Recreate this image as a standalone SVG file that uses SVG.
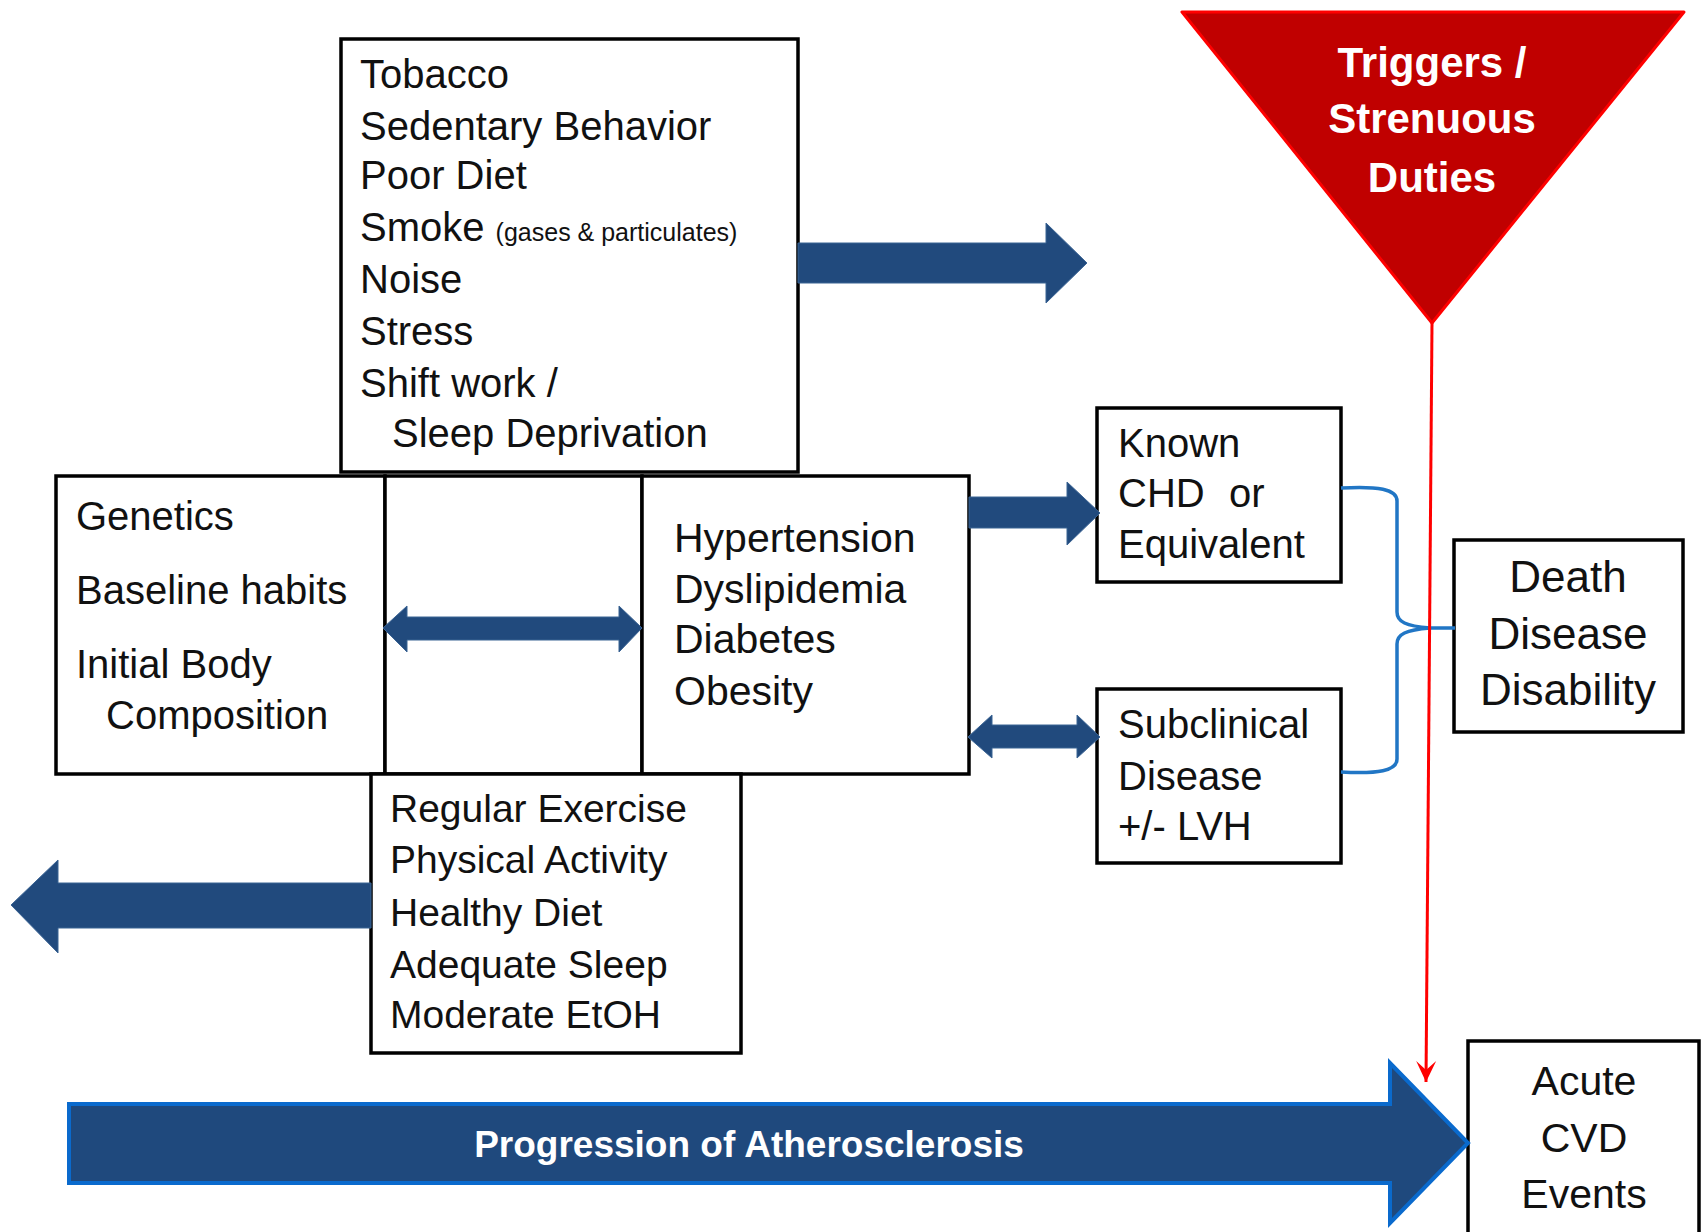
<svg xmlns="http://www.w3.org/2000/svg" width="1708" height="1232" viewBox="0 0 1708 1232">
<style>
.box{fill:#fff;stroke:#000;stroke-width:3.5}
.t{font-family:"Liberation Sans",Arial,sans-serif;font-size:40px;fill:#111}
.t41{font-size:41px}
.t39{font-size:39px}
.tc{font-family:"Liberation Sans",Arial,sans-serif;font-size:41px;fill:#111;text-anchor:middle}
.t44{font-size:44px}
.arr{fill:#214A7D;stroke:#3B6494;stroke-width:1}
.wb{font-family:"Liberation Sans",Arial,sans-serif;font-weight:bold;fill:#fff;text-anchor:middle}
</style>
<defs>
<marker id="redhead" viewBox="0 0 24 22" refX="22" refY="11" markerWidth="24" markerHeight="22" markerUnits="userSpaceOnUse" orient="auto">
<path d="M1,1 L22,11 L1,21 L10,11 Z" fill="#FF0000"/>
</marker>
</defs>
<rect width="1708" height="1232" fill="#fff"/>

<g id="risk-factors">
<rect class="box" x="341" y="39" width="457" height="433"/>
<text class="t" x="360" y="88">Tobacco</text>
<text class="t" x="360" y="140">Sedentary Behavior</text>
<text class="t" x="360" y="189">Poor Diet</text>
<text class="t" x="360" y="241">Smoke <tspan font-size="25">(gases &amp; particulates)</tspan></text>
<text class="t" x="360" y="293">Noise</text>
<text class="t" x="360" y="345">Stress</text>
<text class="t" x="360" y="397">Shift work /</text>
<text class="t" x="392" y="447">Sleep Deprivation</text>
</g>

<g id="genetics">
<rect class="box" x="56" y="476" width="329" height="298"/>
<text class="t" x="76" y="530">Genetics</text>
<text class="t" x="76" y="604">Baseline habits</text>
<text class="t" x="76" y="678">Initial Body</text>
<text class="t" x="106" y="729">Composition</text>
</g>

<g id="middle">
<rect class="box" x="385" y="476" width="257" height="298"/>
</g>

<g id="conditions">
<rect class="box" x="642" y="476" width="327" height="298"/>
<text class="t t41" x="674" y="552">Hypertension</text>
<text class="t t41" x="674" y="603">Dyslipidemia</text>
<text class="t t41" x="674" y="653">Diabetes</text>
<text class="t t41" x="674" y="705">Obesity</text>
</g>

<g id="protective">
<rect class="box" x="371" y="774" width="370" height="279"/>
<text class="t t39" x="390" y="822">Regular Exercise</text>
<text class="t t39" x="390" y="873">Physical Activity</text>
<text class="t t39" x="390" y="926">Healthy Diet</text>
<text class="t t39" x="390" y="978">Adequate Sleep</text>
<text class="t t39" x="390" y="1028">Moderate EtOH</text>
</g>

<g id="known-chd">
<rect class="box" x="1097" y="408" width="244" height="174"/>
<text class="t" x="1118" y="457">Known</text>
<text class="t" x="1118" y="507">CHD</text>
<text class="t" x="1229" y="507">or</text>
<text class="t" x="1118" y="558">Equivalent</text>
</g>

<g id="subclinical">
<rect class="box" x="1097" y="689" width="244" height="174"/>
<text class="t" x="1118" y="738">Subclinical</text>
<text class="t" x="1118" y="790">Disease</text>
<text class="t" x="1118" y="840">+/- LVH</text>
</g>

<g id="outcomes">
<rect class="box" x="1454" y="540" width="229" height="192"/>
<text class="tc t44" x="1568" y="592">Death</text>
<text class="tc t44" x="1568" y="649">Disease</text>
<text class="tc t44" x="1568" y="705">Disability</text>
</g>

<g id="acute">
<rect class="box" x="1468" y="1041" width="231" height="200"/>
<text class="tc" x="1584" y="1095">Acute</text>
<text class="tc" x="1584" y="1152">CVD</text>
<text class="tc" x="1584" y="1208">Events</text>
</g>

<g id="triggers">
<polygon points="1182,12 1684,12 1432,323" fill="#C00000" stroke="#FF0000" stroke-width="3" stroke-linejoin="round"/>
<text class="wb" x="1432" y="77" font-size="42">Triggers /</text>
<text class="wb" x="1432" y="133" font-size="42">Strenuous</text>
<text class="wb" x="1432" y="192" font-size="42">Duties</text>
</g>

<g id="progression">
<polygon points="69,1104 1390,1104 1390,1063 1468,1143 1390,1223 1390,1183 69,1183" fill="#1F497D" stroke="#0A6ACD" stroke-width="4"/>
<text class="wb" x="749" y="1157" font-size="37">Progression of Atherosclerosis</text>
</g>

<g id="connectors">
<polygon class="arr" points="798,243 1046,243 1046,223 1087,263 1046,303 1046,283 798,283"/>
<polygon class="arr" points="383,628 407,606 407,617 619,617 619,606 642,628 619,652 619,640 407,640 407,652"/>
<polygon class="arr" points="969,497 1067,497 1067,482 1100,513 1067,545 1067,528 969,528"/>
<polygon class="arr" points="968,737 992,715 992,725 1077,725 1077,715 1100,737 1077,758 1077,748 992,748 992,758"/>
<polygon class="arr" points="371,883 58,883 58,860 11,905 58,953 58,928 371,928"/>
<path d="M1341,488 C1378,486 1397,489 1397,501 L1397,612 C1397,622 1406,626 1430,628 L1455,628 M1341,772 C1378,774 1397,771 1397,759 L1397,644 C1397,634 1406,630 1430,628" fill="none" stroke="#2176C5" stroke-width="3.5"/>
<line x1="1432" y1="323" x2="1426" y2="1082" stroke="#FF0000" stroke-width="3" marker-end="url(#redhead)"/>
</g>
</svg>
